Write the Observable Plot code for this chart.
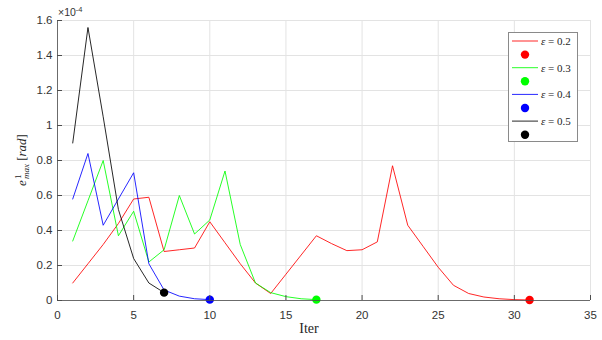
<!DOCTYPE html>
<html>
<head>
<meta charset="utf-8">
<script src="https://cdn.jsdelivr.net/npm/d3@7"></script>
<script src="https://cdn.jsdelivr.net/npm/@observablehq/plot@0.6"></script>
<style>
  html, body { margin: 0; padding: 0; background: #fff; }
  #wrap { position: relative; width: 602px; height: 340px; overflow: hidden; }
  #wrap svg { position: absolute; left: 0; top: 0; }
  .tex { font-family: "Liberation Serif", "DejaVu Serif", serif; color: #262626; position: absolute; white-space: nowrap; }
  .sans { font-family: "Liberation Sans", Arial, sans-serif; color: #333; position: absolute; white-space: nowrap; }
  #ylab { left: 22px; top: 160px; transform: translate(-50%, -50%) rotate(-90deg); font-size: 13px; }
  .stack { display: inline-block; vertical-align: middle; line-height: 0.85; font-size: 9px; text-align: left; margin-left: 1px; }
  #legend { position: absolute; left: 508px; top: 32px; width: 70px; height: 110px; box-sizing: border-box; border: 1px solid #8a8a8a; background: #fff; }
</style>
</head>
<body>
<div id="wrap"></div>
<script>
// Maximum orientation error per iteration, in units of 1e-4 rad
const ITER = [1, 2, 3, 4, 5, 6, 7, 8, 9, 10, 11, 12, 13, 14, 15, 16, 17, 18, 19, 20, 21, 22, 23, 24, 25, 26, 27, 28, 29, 30, 31];
const EPS = ["0.2", "0.3", "0.4", "0.5"];
const COLORS = ["#ff0000", "#00ff00", "#0000ff", "#000000"];
const E_02 = [0.10, 0.21, 0.32, 0.44, 0.58, 0.59, 0.28, 0.29, 0.30, 0.45, 0.33, 0.21, 0.10, 0.04, 0.15, 0.26, 0.37, 0.325, 0.285, 0.29, 0.335, 0.77, 0.43, 0.31, 0.19, 0.087, 0.04, 0.02, 0.01, 0.005, 0.003];
const E_03 = [0.34, 0.57, 0.80, 0.37, 0.51, 0.22, 0.29, 0.60, 0.38, 0.46, 0.74, 0.32, 0.10, 0.045, 0.022, 0.01, 0.005];
const E_04 = [0.58, 0.84, 0.43, 0.58, 0.73, 0.21, 0.06, 0.025, 0.01, 0.005];
const E_05 = [0.90, 1.56, 1.05, 0.52, 0.24, 0.10, 0.045];
const X_TICKS = [0, 5, 10, 15, 20, 25, 30, 35];
const Y_TICKS = [0, 0.2, 0.4, 0.6, 0.8, 1, 1.2, 1.4, 1.6];
const Y_TICK_LABELS = ["0", "0.2", "0.4", "0.6", "0.8", "1", "1.2", "1.4", "1.6"];

const SERIES = [E_02, E_03, E_04, E_05];
const rows = SERIES.flatMap((vals, i) => vals.map((v, j) => ({iter: ITER[j], value: v, eps: EPS[i]})));
const finals = SERIES.map((vals, i) => ({iter: ITER[vals.length - 1], value: vals[vals.length - 1], eps: EPS[i]}));

const chart = Plot.plot({
  width: 602,
  height: 340,
  marginLeft: 57,
  marginRight: 12,
  marginTop: 20,
  marginBottom: 40,
  style: {fontFamily: "'Liberation Sans', Arial, sans-serif", fontSize: "11.5px", color: "#333", background: "transparent"},
  x: {domain: [0, 35]},
  y: {domain: [0, 1.6]},
  color: {domain: EPS, range: COLORS},
  marks: [
    Plot.gridX(X_TICKS, {stroke: "#e3e3e3", strokeOpacity: 1}),
    Plot.gridY(Y_TICKS, {stroke: "#e3e3e3", strokeOpacity: 1}),
    Plot.line(rows, {x: "iter", y: "value", z: "eps", stroke: "eps", strokeWidth: 0.85}),
    Plot.dot(finals, {x: "iter", y: "value", fill: "eps", r: 4.2}),
    Plot.ruleY([0], {stroke: "#4d4d4d", strokeWidth: 0.8}),
    Plot.ruleX([0], {stroke: "#4d4d4d", strokeWidth: 0.8}),
    Plot.axisX(X_TICKS, {tickSize: -5, tickPadding: 15, label: null, stroke: "#4d4d4d", fill: "#333"}),
    Plot.axisY(Y_TICKS, {tickSize: -5, tickPadding: 10, label: null, tickFormat: (d, i) => Y_TICK_LABELS[i], stroke: "#4d4d4d", fill: "#333"})
  ]
});

const wrap = document.getElementById("wrap");
wrap.appendChild(chart);

// Exponent multiplier above the y axis
const expo = document.createElement("div");
expo.className = "sans";
expo.style.cssText = "left:58px; top:6px; font-size:10.5px;";
expo.innerHTML = "×10<span style=\"font-size:7.5px; position:relative; top:-4px;\">-4</span>";
wrap.appendChild(expo);

// Axis titles
const ylab = document.createElement("div");
ylab.className = "tex";
ylab.id = "ylab";
ylab.innerHTML = "<i>e</i><span class=\"stack\">1<br><i>max</i></span> [<i>rad</i>]";
wrap.appendChild(ylab);

const xlab = document.createElement("div");
xlab.className = "tex";
xlab.style.cssText = "left:309px; top:321px; transform:translateX(-50%); font-size:14px;";
xlab.textContent = "Iter";
wrap.appendChild(xlab);

// Legend: a line swatch followed by a dot swatch for each ε
const legend = document.createElement("div");
legend.id = "legend";
const ns = "http://www.w3.org/2000/svg";
const lsvg = document.createElementNS(ns, "svg");
lsvg.setAttribute("width", 68);
lsvg.setAttribute("height", 108);
lsvg.style.position = "absolute";
lsvg.style.left = "0px";
lsvg.style.top = "0px";
EPS.forEach((e, i) => {
  const yLine = 8 + i * 26.7;
  const yDot = yLine + 13.6;
  const ln = document.createElementNS(ns, "line");
  ln.setAttribute("x1", 3); ln.setAttribute("x2", 29);
  ln.setAttribute("y1", yLine); ln.setAttribute("y2", yLine);
  ln.setAttribute("stroke", COLORS[i]); ln.setAttribute("stroke-width", 0.85);
  lsvg.appendChild(ln);
  const c = document.createElementNS(ns, "circle");
  c.setAttribute("cx", 16); c.setAttribute("cy", yDot); c.setAttribute("r", 4.2);
  c.setAttribute("fill", COLORS[i]);
  lsvg.appendChild(c);
});
legend.appendChild(lsvg);
EPS.forEach((e, i) => {
  const t = document.createElement("div");
  t.className = "tex";
  t.style.cssText = `left:32px; top:${8 + i * 26.7 - 7}px; font-size:11px; line-height:14px;`;
  t.innerHTML = `<i>ε</i> = ${e}`;
  legend.appendChild(t);
});
wrap.appendChild(legend);
</script>
</body>
</html>
